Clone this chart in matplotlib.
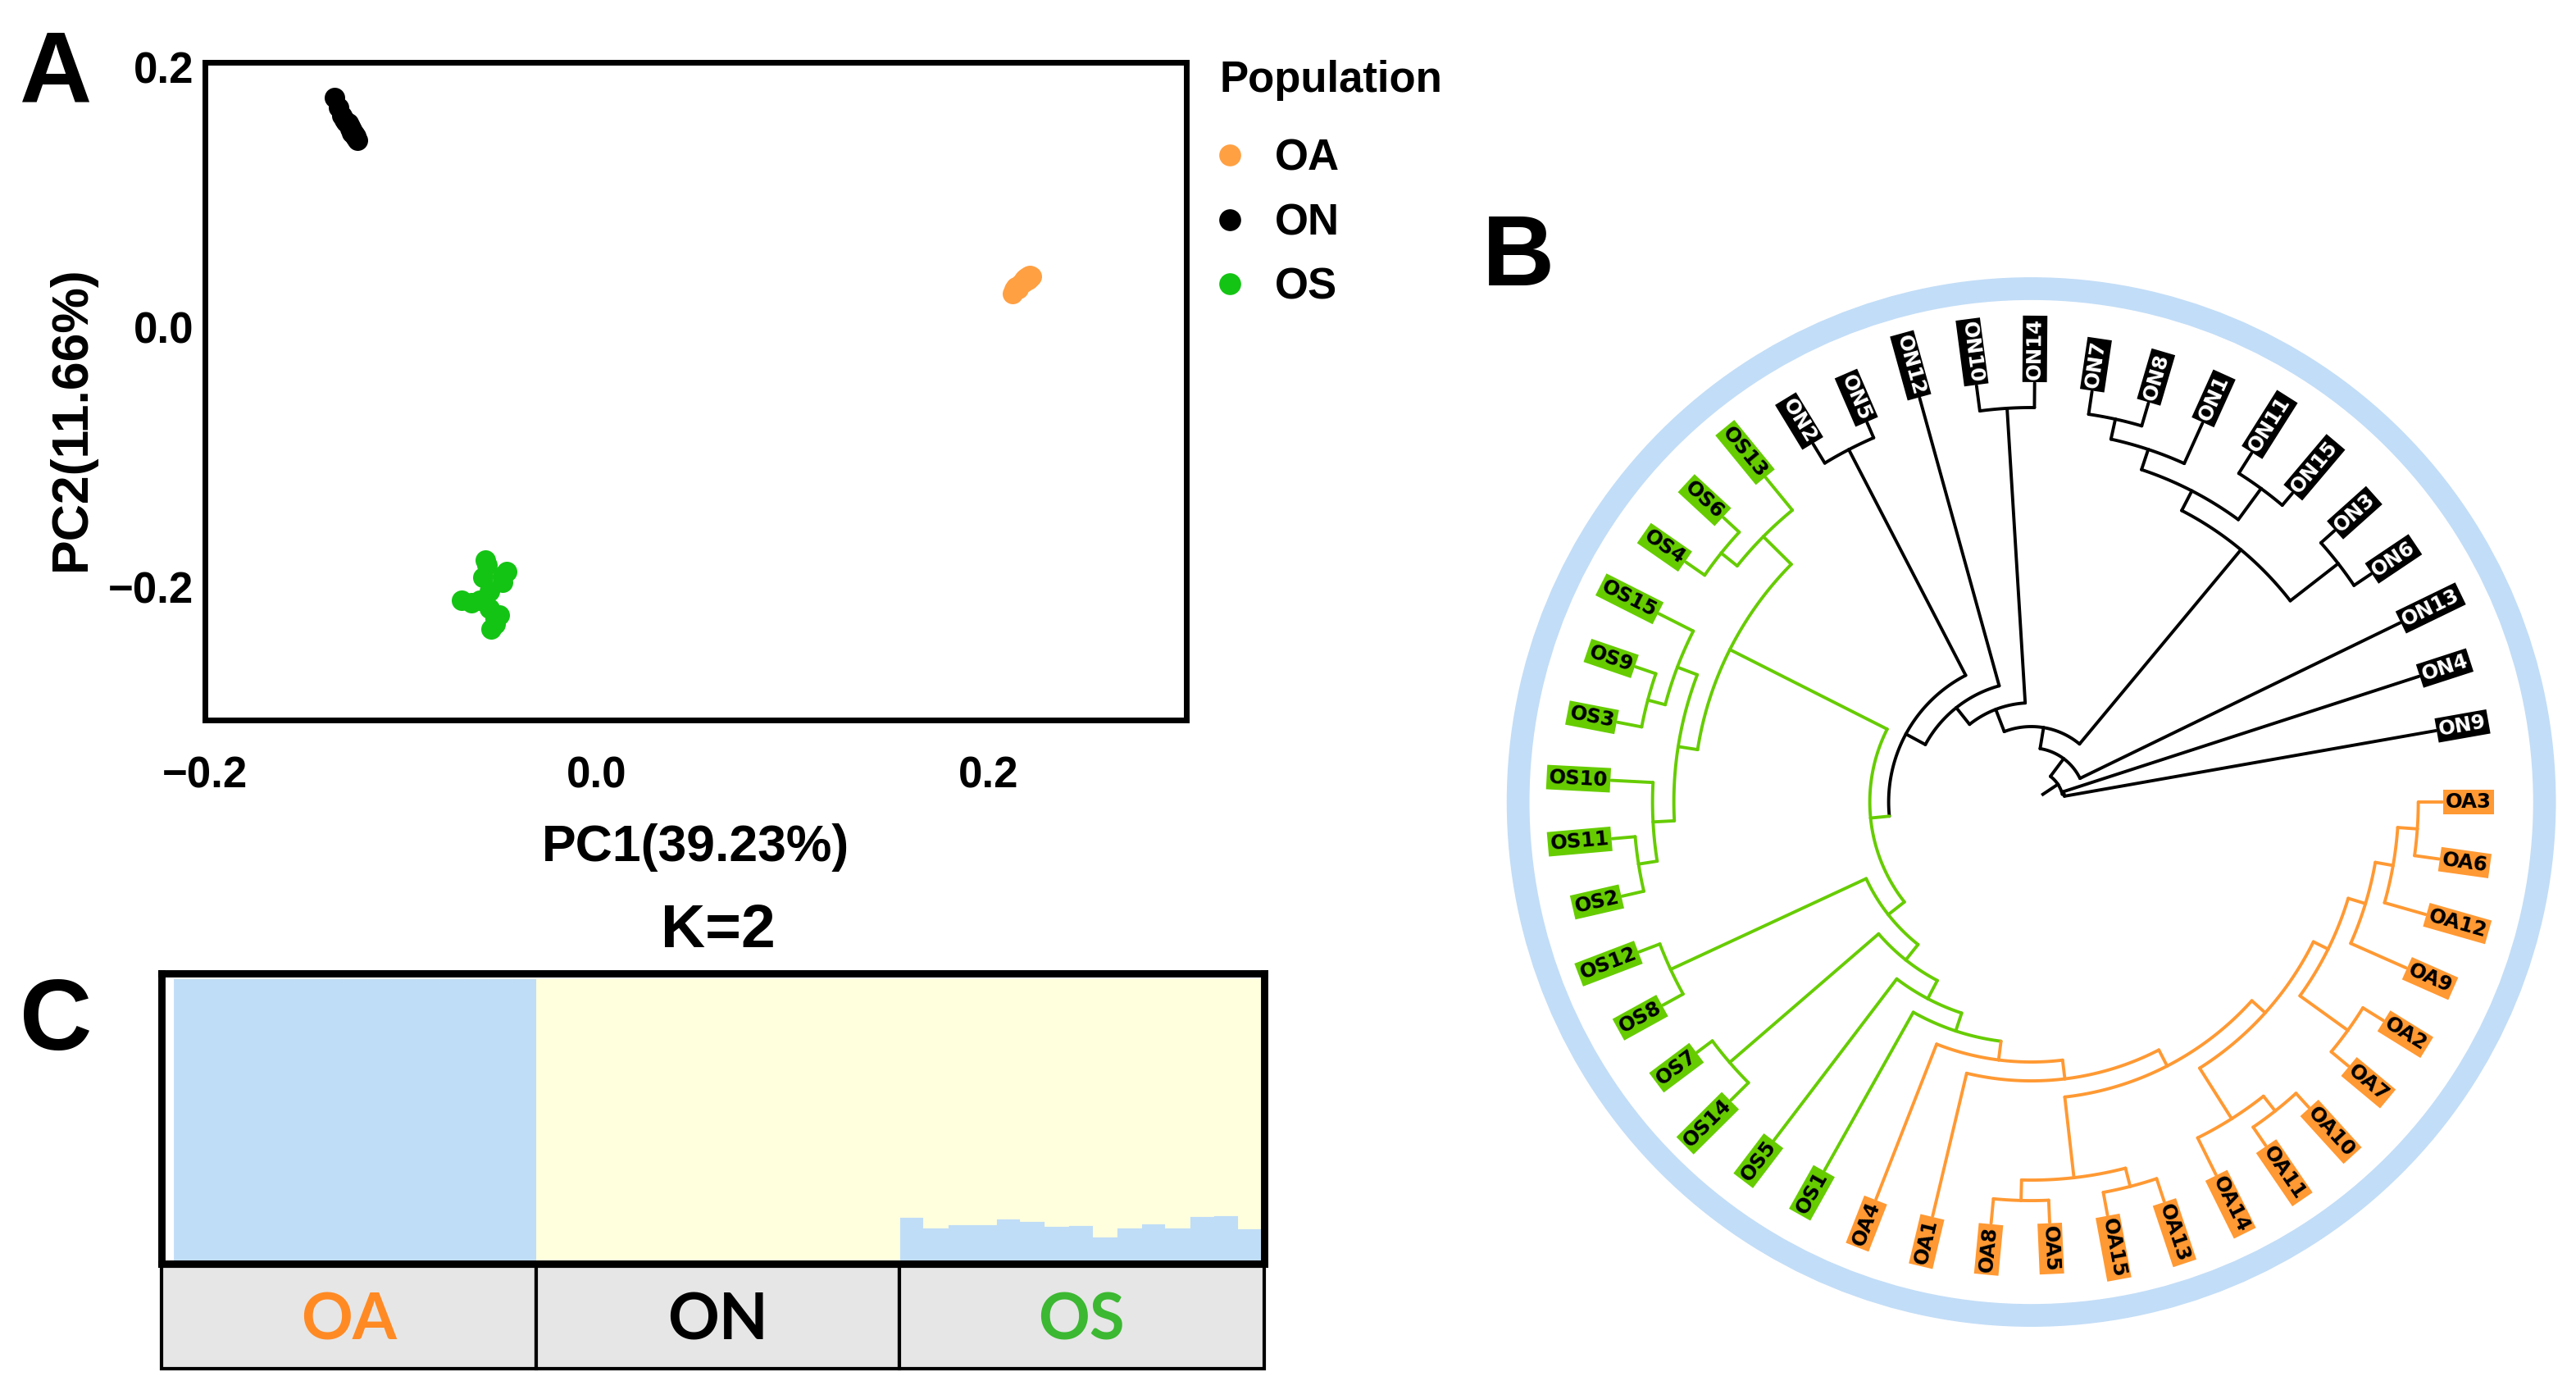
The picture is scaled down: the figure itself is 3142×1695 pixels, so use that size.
import numpy as np
import matplotlib
matplotlib.use('Agg')
import matplotlib.pyplot as plt
from matplotlib.lines import Line2D
from matplotlib.patches import Circle, Rectangle

plt.rcParams['font.family'] = 'Liberation Sans'

# ---- panel A: PCA scores ----
oa_pc1 = [0.212, 0.213, 0.214, 0.215, 0.216, 0.217, 0.218, 0.218, 0.219, 0.219, 0.220, 0.220, 0.221, 0.221, 0.222]
oa_pc2 = [0.026, 0.029, 0.031, 0.030, 0.033, 0.034, 0.035, 0.037, 0.036, 0.038, 0.037, 0.039, 0.038, 0.040, 0.039]
on_pc1 = [-0.134, -0.132, -0.130, -0.129, -0.128, -0.127, -0.126, -0.126, -0.125, -0.125, -0.124, -0.124, -0.123, -0.123, -0.122]
on_pc2 = [0.177, 0.169, 0.163, 0.160, 0.158, 0.157, 0.155, 0.153, 0.152, 0.150, 0.149, 0.148, 0.147, 0.146, 0.144]
os_pc1 = [-0.069, -0.064, -0.060, -0.058, -0.057, -0.056, -0.055, -0.055, -0.054, -0.052, -0.052, -0.050, -0.048, -0.048, -0.046]
os_pc2 = [-0.210, -0.212, -0.210, -0.192, -0.179, -0.183, -0.216, -0.203, -0.232, -0.228, -0.224, -0.221, -0.196, -0.191, -0.188]

populations = ['OA', 'ON', 'OS']
pca_colors = {'OA': '#ffa043', 'ON': '#000000', 'OS': '#14c414'}

# ---- panel C: ADMIXTURE K=2, share of the blue cluster per individual ----
k2_blue_oa = [1.0] * 15
k2_blue_on = [0.0] * 15
k2_blue_os = [0.163, 0.125, 0.137, 0.137, 0.158, 0.148, 0.131, 0.134, 0.095, 0.127, 0.142, 0.127, 0.166, 0.170, 0.122]
k2_colors = ['#c0ddf7', '#ffffde']
table_text_colors = {'OA': '#ff8a24', 'ON': '#000000', 'OS': '#3cb832'}

# ---- panel B: NJ tree (branch lengths) ----
on_big = ("((ON6:0.025,ON3:0.022):0.074,((ON15:0.019,ON11:0.029):0.047,"
          "(ON1:0.054,(ON8:0.029,ON7:0.028):0.025):0.026):0.027)")
os_upper = ("((OS13:0.051,(OS6:0.026,OS4:0.028):0.025):0.048,((OS15:0.047,(OS9:0.026,OS3:0.030):0.022):0.026,"
            "(OS10:0.051,(OS11:0.028,OS2:0.027):0.023):0.026):0.024)")
oa_core = ("(((OA8:0.030,OA5:0.027):0.025,(OA15:0.028,OA13:0.029):0.023):0.099,"
           "((OA14:0.050,(OA11:0.027,OA10:0.023):0.023):0.073,((OA7:0.027,OA2:0.029):0.072,"
           "(OA9:0.074,(OA12:0.052,(OA6:0.030,OA3:0.029):0.024):0.022):0.022):0.020):0.022)")
os_lower = ("((OS12:0.027,OS8:0.028):0.263,((OS7:0.023,OS14:0.030):0.240,(OS5:0.247,(OS1:0.221,"
            "(OA4:0.203,(OA1:0.179," + oa_core + ":0.022):0.023):0.023):0.023):0.025):0.024)")
tree_newick = ("((ON9:0.460,ON4:0.456):0.002,(ON13:0.434,(" + on_big + ":0.308,((ON14:0.030,ON10:0.031):0.360,"
               "(ON12:0.364,((ON5:0.020,ON2:0.027):0.310,(" + os_upper + ":0.215," + os_lower + ":0.025)"
               ":0.023):0.027):0.026):0.029):0.026):0.027);")
root_edge = 0.022
tree_colors = {'ON': '#000000', 'OS': '#66cc00', 'OA': '#ff9933'}


def parse_newick(s):
    pos = 0

    def node():
        nonlocal pos
        kids = []
        if s[pos] == '(':
            pos += 1
            while True:
                kids.append(node())
                if s[pos] == ',':
                    pos += 1
                else:
                    break
            pos += 1
        start = pos
        while s[pos] not in ':,);':
            pos += 1
        name = s[start:pos]
        length = 0.0
        if s[pos] == ':':
            pos += 1
            start = pos
            while s[pos] not in ',);':
                pos += 1
            length = float(s[start:pos])
        return {'name': name, 'len': length, 'kids': kids}

    return node()


fig = plt.figure(figsize=(15.71, 8.475), dpi=200, facecolor='white')

# ================= A =================
ax = fig.add_axes([0.0796, 0.4820, 0.3810, 0.4732])
pca = {'OA': (oa_pc1, oa_pc2), 'ON': (on_pc1, on_pc2), 'OS': (os_pc1, os_pc2)}
for pop in populations:
    ax.scatter(pca[pop][0], pca[pop][1], s=81, color=pca_colors[pop], linewidths=0, zorder=3)
ax.set_xlim(-0.2, 0.301)
ax.set_ylim(-0.302, 0.204)
ax.set_xticks([-0.2, 0.0, 0.2])
ax.set_yticks([-0.2, 0.0, 0.2])
ax.tick_params(axis='x', length=0, pad=15.5, labelsize=19)
ax.tick_params(axis='y', length=0, pad=5, labelsize=19)
for lab in ax.get_xticklabels() + ax.get_yticklabels():
    lab.set_fontweight('bold')
for sp in ax.spines.values():
    sp.set_linewidth(2.5)
ax.set_xlabel('PC1(39.23%)', fontsize=22.5, fontweight='bold')
ax.xaxis.set_label_coords(0.5, -0.157)
ax.set_ylabel('PC2(11.66%)', fontsize=22.5, fontweight='bold')
ax.yaxis.set_label_coords(-0.111, 0.459)

fig.text(0.4733, 0.9341, 'Population', fontsize=19, fontweight='bold', va='baseline')
handles = [Line2D([], [], ls='none', marker='o', markersize=9.6, markeredgewidth=0,
                  color=pca_colors[p]) for p in populations]
leg = ax.legend(handles, populations, loc='upper left', bbox_to_anchor=(0.4707, 0.9005),
                bbox_transform=fig.transFigure, frameon=False, borderpad=0, borderaxespad=0,
                handlelength=0.8, handletextpad=0.64, labelspacing=0.54,
                prop={'size': 19, 'weight': 'bold'})

# ================= C =================
ax_s = fig.add_axes([0.0627, 0.0909, 0.4281, 0.2088])
blue = np.array(k2_blue_oa + k2_blue_on + k2_blue_os)
ind = np.arange(len(blue))
ax_s.bar(ind, blue, width=1.0, color=k2_colors[0], linewidth=0.3, edgecolor=k2_colors[0])
ax_s.bar(ind, 1 - blue, bottom=blue, width=1.0, color=k2_colors[1], linewidth=0.3, edgecolor=k2_colors[1])
ax_s.set_xlim(-1.0, 44.6)
ax_s.set_ylim(0, 1.017)
ax_s.set_xticks([])
ax_s.set_yticks([])
for sp in ax_s.spines.values():
    sp.set_linewidth(3.2)
fig.text(0.2788, 0.3303, 'K=2', fontsize=27, fontweight='bold', ha='center', va='center')

ax_tab = fig.add_axes([0.0627, 0.0153, 0.4281, 0.0738])
ax_tab.set_xlim(ax_s.get_xlim())
ax_tab.set_ylim(0, 1)
ax_tab.axis('off')
sizes = [len(k2_blue_oa), len(k2_blue_on), len(k2_blue_os)]
edges = np.concatenate([[0], np.cumsum(sizes)]) - 0.5
edges[0] = ax_s.get_xlim()[0]
edges[-1] = ax_s.get_xlim()[1]
for i, pop in enumerate(populations):
    ax_tab.add_patch(Rectangle((edges[i], 0), edges[i + 1] - edges[i], 1, facecolor='#e6e6e6',
                               edgecolor='black', linewidth=1.5, clip_on=False))
    ax_tab.text((edges[i] + edges[i + 1]) / 2, 0.46, pop, color=table_text_colors[pop],
                family='Lato', fontweight='bold', fontsize=28, ha='center', va='center')

# ================= B =================
ax_t = fig.add_axes([0.5785, 0.0336, 0.4201, 0.7788])
ax_t.set_xlim(-0.66, 0.66)
ax_t.set_ylim(-0.66, 0.66)
ax_t.axis('off')
ax_t.add_patch(Circle((0, 0), 0.626, fill=False, linewidth=10, edgecolor='#c2ddf7'))

tree = parse_newick(tree_newick)
tips = []
theta0, step = 10.0, 350.0 / 44
inner = 0.039


def layout(nd, depth):
    nd['r'] = depth + nd['len']
    if not nd['kids']:
        nd['theta'] = theta0 + step * len(tips)
        nd['pops'] = {nd['name'][:2]}
        tips.append(nd)
    else:
        for c in nd['kids']:
            layout(c, nd['r'])
        nd['theta'] = np.mean([c['theta'] for c in nd['kids']])
        nd['pops'] = set().union(*[c['pops'] for c in nd['kids']])
    p = nd['pops']
    if p == {'OA'}:
        nd['grp'] = 'OA'
    elif 'OS' in p and 'ON' not in p:
        nd['grp'] = 'OS'
    else:
        nd['grp'] = 'ON'


layout(tree, inner)


def polar(r, th):
    t = np.radians(th)
    return r * np.cos(t), r * np.sin(t)


lw = 1.4


def draw(nd):
    for c in nd['kids']:
        th = np.linspace(nd['theta'], c['theta'], 60)
        x, y = polar(nd['r'], th)
        ax_t.plot(x, y, color=tree_colors[nd['grp']], lw=lw, solid_capstyle='round')
        x, y = polar(np.array([nd['r'], c['r']]), c['theta'])
        ax_t.plot(x, y, color=tree_colors[c['grp']], lw=lw, solid_capstyle='round')
        draw(c)


draw(tree)
x, y = polar(np.array([tree['r'] - root_edge, tree['r']]), tree['theta'])
ax_t.plot(x, y, color='black', lw=lw)

for tp in tips:
    th = tp['theta'] % 360
    pop = tp['name'][:2]
    x, y = polar(tp['r'] + 0.004, th)
    if 90 < th < 270:
        rot, ha = th - 180, 'right'
    else:
        rot, ha = (th if th <= 90 else th - 360), 'left'
    ax_t.text(x, y, tp['name'], rotation=rot, rotation_mode='anchor', ha=ha, va='center',
              family='DejaVu Sans', fontweight='bold', fontsize=8.8,
              color='white' if pop == 'ON' else 'black',
              bbox=dict(boxstyle='square,pad=0.12', facecolor=tree_colors[pop], edgecolor='none'))

# panel letters
for letter, fx, fy in [('A', 0.0076, 0.9268), ('B', 0.5754, 0.7947), ('C', 0.0076, 0.2448)]:
    fig.text(fx, fy, letter, fontsize=44, fontweight='bold', va='baseline')

fig.savefig('out.png', dpi=200, facecolor='white')
